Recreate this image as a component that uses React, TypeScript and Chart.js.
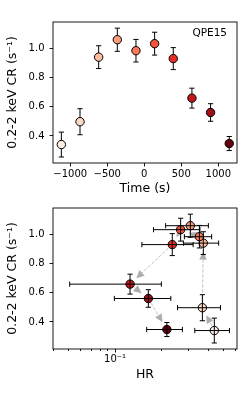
import React, { useEffect, useRef } from 'react';
import { Chart, registerables } from 'chart.js';

Chart.register(...registerables);

// ---- data ----
const timeSec = [-1120, -868, -616, -364, -112, 140, 392, 644, 896, 1148];
const countRate = [0.341, 0.497, 0.938, 1.057, 0.982, 1.03, 0.928, 0.658, 0.56, 0.348];
const countRateErr = [0.085, 0.089, 0.078, 0.079, 0.077, 0.078, 0.075, 0.068, 0.06, 0.048];
const hardness = [0.437, 0.366, 0.371, 0.306, 0.35, 0.265, 0.234, 0.125, 0.164, 0.216];
const hardnessErr = [0.11, 0.113, 0.095, 0.094, 0.07, 0.088, 0.085, 0.074, 0.065, 0.056];
const pointColors = ['#fbede6', '#fcd7c5', '#fcbba1', '#fc9b7c', '#fb7858', '#f4543c', '#e22e26', '#c5161c', '#a00f15', '#67000d'];

const timeTicks = [-1000, -500, 0, 500, 1000];
const rateTicks = [0.4, 0.6, 0.8, 1.0];
const hrMajorTicks = [0.1];
const hrMinorTicks = [0.04, 0.05, 0.06, 0.07, 0.08, 0.09, 0.2, 0.3, 0.4, 0.5, 0.6];

const TIME_MIN = -1233;
const TIME_MAX = 1253;
const RATE_MIN = 0.215;
const RATE_MAX = 1.178;
const HR_MIN = 0.0398;
const HR_MAX = 0.612;

const panelLabel = 'QPE15';
const rateTitle = '0.2-2 keV CR (s\u207B\u00B9)';
const timeTitle = 'Time (s)';
const hrTitle = 'HR';

const FAMILY = "'DejaVu Sans', sans-serif";

const fmtTime = (v: number) => (v < 0 ? '\u2212' + Math.abs(v) : String(v));
const fmtHr = (v: number) => (Math.abs(v - 0.1) < 1e-9 ? '10\u207B\u00B9' : '');

function errorBarPlugin(id: string, above: boolean) {
  const draw = (chart: any) => {
    const ctx = chart.ctx;
    const xs = chart.scales.x;
    const ys = chart.scales.y;
    const cap = 2.6;
    chart.data.datasets.forEach((ds: any) => {
      ctx.save();
      ctx.strokeStyle = '#000';
      ctx.lineWidth = 1;
      ds.data.forEach((pt: any, i: number) => {
        const px = xs.getPixelForValue(pt.x);
        const py = ys.getPixelForValue(pt.y);
        ctx.beginPath();
        if (ds.yErr) {
          const y1 = ys.getPixelForValue(pt.y - ds.yErr[i]);
          const y2 = ys.getPixelForValue(pt.y + ds.yErr[i]);
          ctx.moveTo(px, y1); ctx.lineTo(px, y2);
          ctx.moveTo(px - cap, y1); ctx.lineTo(px + cap, y1);
          ctx.moveTo(px - cap, y2); ctx.lineTo(px + cap, y2);
        }
        if (ds.xErr) {
          const x1 = xs.getPixelForValue(pt.x - ds.xErr[i]);
          const x2 = xs.getPixelForValue(pt.x + ds.xErr[i]);
          ctx.moveTo(x1, py); ctx.lineTo(x2, py);
          ctx.moveTo(x1, py - cap); ctx.lineTo(x1, py + cap);
          ctx.moveTo(x2, py - cap); ctx.lineTo(x2, py + cap);
        }
        ctx.stroke();
      });
      ctx.restore();
    });
  };
  return above ? { id, afterDatasetsDraw: draw } : { id, beforeDatasetsDraw: draw };
}

const framePlugin = {
  id: 'frame',
  afterDatasetsDraw(chart: any) {
    const { ctx, chartArea } = chart;
    ctx.save();
    ctx.strokeStyle = '#000';
    ctx.lineWidth = 0.9;
    ctx.strokeRect(chartArea.left, chartArea.top, chartArea.right - chartArea.left, chartArea.bottom - chartArea.top);
    ctx.restore();
  },
};

const labelPlugin = {
  id: 'panelLabel',
  afterDatasetsDraw(chart: any) {
    const { ctx, chartArea } = chart;
    ctx.save();
    ctx.font = `10.5px ${FAMILY}`;
    ctx.fillStyle = '#000';
    ctx.textAlign = 'right';
    ctx.textBaseline = 'middle';
    ctx.fillText(panelLabel, chartArea.right - 10, chartArea.top + 11.5);
    ctx.restore();
  },
};

const arrowPlugin = {
  id: 'arrows',
  beforeDatasetsDraw(chart: any) {
    const ctx = chart.ctx;
    const xs = chart.scales.x;
    const ys = chart.scales.y;
    const pts = chart.data.datasets[0].data.map((p: any) => [xs.getPixelForValue(p.x), ys.getPixelForValue(p.y)]);
    ctx.save();
    for (let i = 0; i < pts.length - 1; i++) {
      const [ax, ay] = pts[i];
      const [bx, by] = pts[i + 1];
      const dx = bx - ax, dy = by - ay;
      const len = Math.hypot(dx, dy);
      const ux = dx / len, uy = dy / len;
      const sx = ax + ux * 5, sy = ay + uy * 5;
      const tx = bx - ux * 8.5, ty = by - uy * 8.5;
      const headL = 8, headW = 3.8;
      const hx = tx - ux * headL, hy = ty - uy * headL;
      ctx.strokeStyle = '#c2c2c2';
      ctx.lineWidth = 1;
      ctx.setLineDash([3.5, 1.5]);
      ctx.beginPath();
      ctx.moveTo(sx, sy);
      ctx.lineTo(hx, hy);
      ctx.stroke();
      ctx.setLineDash([]);
      ctx.fillStyle = '#adadad';
      ctx.beginPath();
      ctx.moveTo(tx, ty);
      ctx.lineTo(hx - uy * headW, hy + ux * headW);
      ctx.lineTo(hx + uy * headW, hy - ux * headW);
      ctx.closePath();
      ctx.fill();
    }
    ctx.restore();
  },
};

const tickGrid = (len: number) => ({
  display: true,
  drawOnChartArea: false,
  drawTicks: true,
  tickLength: len,
  tickColor: '#000',
  tickWidth: 0.9,
});

const yScale = () => ({
  type: 'linear',
  min: RATE_MIN,
  max: RATE_MAX,
  afterBuildTicks: (s: any) => { s.ticks = rateTicks.map((v) => ({ value: v })); },
  afterFit: (s: any) => { s.width = 53; },
  grid: tickGrid(3.5),
  border: { display: false },
  ticks: { font: { family: FAMILY, size: 10 }, color: '#000', padding: 5, callback: (v: any) => Number(v).toFixed(1) },
  title: { display: true, text: rateTitle, color: '#000', font: { family: FAMILY, size: 12.5, lineHeight: 1.2 }, padding: { top: 5.5, bottom: 0 } },
});

export default function App() {
  const topRef = useRef<HTMLCanvasElement | null>(null);
  const botRef = useRef<HTMLCanvasElement | null>(null);

  useEffect(() => {
    Chart.defaults.font.family = FAMILY;
    const colors = pointColors;

    const top = new Chart(topRef.current as HTMLCanvasElement, {
      type: 'scatter',
      data: {
        datasets: [
          {
            data: timeSec.map((t, i) => ({ x: t, y: countRate[i] })),
            yErr: countRateErr,
            pointRadius: 4.2,
            pointBackgroundColor: colors,
            pointBorderColor: '#000',
            pointBorderWidth: 1,
          } as any,
        ],
      },
      options: {
        responsive: false,
        animation: false,
        devicePixelRatio: 1,
        layout: { padding: { left: 0, right: 9, top: 22, bottom: 0 } },
        plugins: { legend: { display: false }, tooltip: { enabled: false } },
        scales: {
          x: {
            type: 'linear',
            min: TIME_MIN,
            max: TIME_MAX,
            afterBuildTicks: (s: any) => { s.ticks = timeTicks.map((v) => ({ value: v })); },
            afterFit: (s: any) => { s.height = 34; },
            grid: tickGrid(3.5),
            border: { display: false },
            ticks: { font: { family: FAMILY, size: 10 }, color: '#000', padding: 1.5, maxRotation: 0, autoSkip: false, callback: (v: any) => fmtTime(Number(v)) },
            title: { display: true, text: timeTitle, color: '#000', font: { family: FAMILY, size: 12.5, lineHeight: 1.2 }, padding: { top: 0, bottom: 0.5 } },
          },
          y: yScale(),
        } as any,
      },
      plugins: [errorBarPlugin('errTop', false), framePlugin, labelPlugin],
    } as any);

    const bot = new Chart(botRef.current as HTMLCanvasElement, {
      type: 'scatter',
      data: {
        datasets: [
          {
            data: hardness.map((h, i) => ({ x: h, y: countRate[i] })),
            yErr: countRateErr,
            xErr: hardnessErr,
            pointRadius: 4.2,
            pointBackgroundColor: colors,
            pointBorderColor: '#000',
            pointBorderWidth: 1,
          } as any,
        ],
      },
      options: {
        responsive: false,
        animation: false,
        devicePixelRatio: 1,
        layout: { padding: { left: 0, right: 9, top: 10, bottom: 0 } },
        plugins: { legend: { display: false }, tooltip: { enabled: false } },
        scales: {
          x: {
            type: 'logarithmic',
            weight: 1,
            min: HR_MIN,
            max: HR_MAX,
            afterBuildTicks: (s: any) => { s.ticks = hrMajorTicks.map((v) => ({ value: v })); },
            afterFit: (s: any) => { s.height = 44; },
            grid: tickGrid(3.5),
            border: { display: false },
            ticks: { font: { family: FAMILY, size: 10 }, color: '#000', padding: 1, maxRotation: 0, autoSkip: false, callback: (v: any) => fmtHr(Number(v)) },
            title: { display: true, text: hrTitle, color: '#000', font: { family: FAMILY, size: 12.5, lineHeight: 1.2 }, padding: { top: 0, bottom: 10.5 } },
          },
          xMinor: {
            type: 'logarithmic',
            position: 'bottom',
            weight: 0,
            min: HR_MIN,
            max: HR_MAX,
            afterBuildTicks: (s: any) => { s.ticks = hrMinorTicks.map((v) => ({ value: v })); },
            afterFit: (s: any) => { s.height = 0; },
            grid: tickGrid(2),
            border: { display: false },
            ticks: { display: false },
          },
          y: yScale(),
        } as any,
      },
      plugins: [arrowPlugin, errorBarPlugin('errBot', true), framePlugin],
    } as any);

    return () => {
      top.destroy();
      bot.destroy();
    };
  }, []);

  return (
    <div style={{ position: 'absolute', left: 0, top: 0, width: 246, height: 393, background: '#fff' }}>
      <canvas ref={topRef} width={246} height={197} style={{ position: 'absolute', left: 0, top: 0, display: 'block' }} />
      <canvas ref={botRef} width={246} height={196} style={{ position: 'absolute', left: 0, top: 197, display: 'block' }} />
    </div>
  );
}
